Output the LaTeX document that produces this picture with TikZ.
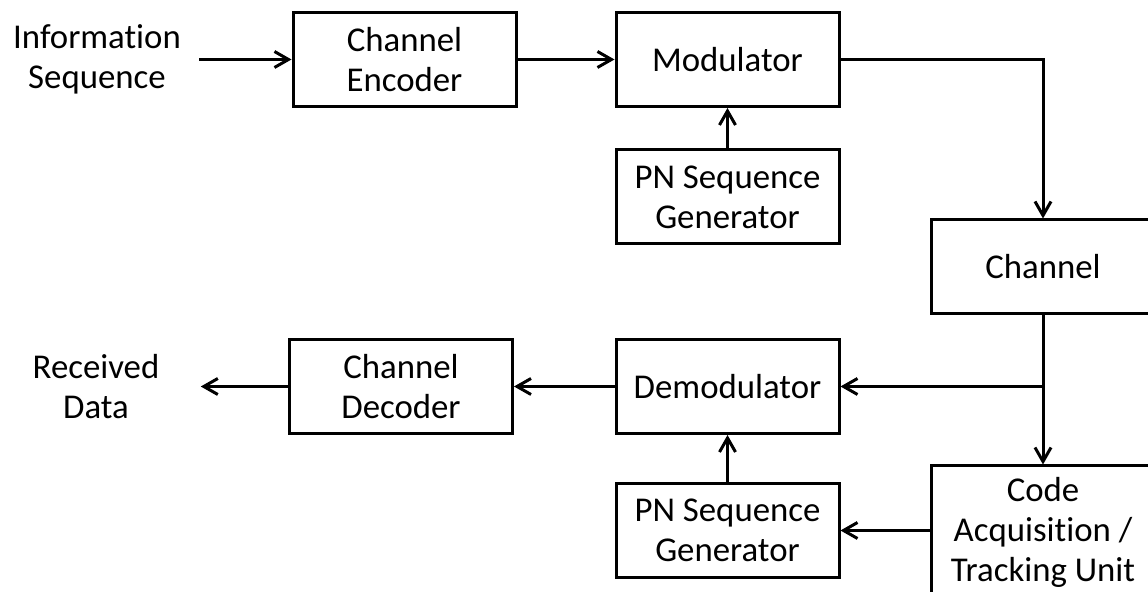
\documentclass[tikz,border=0pt]{standalone}
\usepackage{fontspec}
\setmainfont{Carlito}[Ligatures=NoCommon]
\usetikzlibrary{arrows.meta}
\tikzstyle{block}=[draw,fill=white,rectangle,minimum width=111.5pt,minimum height=47pt,inner sep=2pt,align=center]
\tikzstyle{term}=[align=center]
\tikzstyle{every node}=[font=\fontsize{17.4}{20}\selectfont]

\begin{document}
\begin{tikzpicture}[x=0.5pt,y=-0.5pt,line width=1.5pt,>={Straight Barb[length=7pt,width=8pt]}]
  \useasboundingbox (0,0) rectangle (1148,592);
  % transmitter
  \node[term,inner xsep=8.5pt] (info) at (97,59.5) {Information\\Sequence};
  \node[block] (enc) at (404.5,59.5) {Channel\\Encoder};
  \node[block] (mod) at (727.5,59.5) {Modulator};
  \node[block] (pntx) at (727.5,197) {PN Sequence\\Generator};
  \node[block,minimum width=112pt] (chan) at (1043,267) {Channel};
  % receiver
  \node[block,minimum width=112pt,minimum height=66pt] (acq) at (1043,532) {Code\\Acquisition /\\Tracking Unit};
  \node[block] (demod) at (727.5,386.5) {Demodulator};
  \node[block] (pnrx) at (727.5,530.5) {PN Sequence\\Generator};
  \node[block] (dec) at (401,386.5) {Channel\\Decoder};
  \node[term,inner xsep=20pt] (recv) at (96,386.5) {Received\\Data};
  \coordinate (split) at (chan.south |- demod);
  \draw[->] (info) -- (enc);
  \draw[->] (enc) -- (mod);
  \draw[->] (pntx) -- (mod);
  \draw[->] (mod) -| (chan);
  \draw[->] (chan) -- (acq);
  \draw[->] (split) -- (demod);
  \draw[->] (acq.west |- pnrx) -- (pnrx);
  \draw[->] (pnrx) -- (demod);
  \draw[->] (demod) -- (dec);
  \draw[->] (dec) -- (recv);
\end{tikzpicture}
\end{document}
